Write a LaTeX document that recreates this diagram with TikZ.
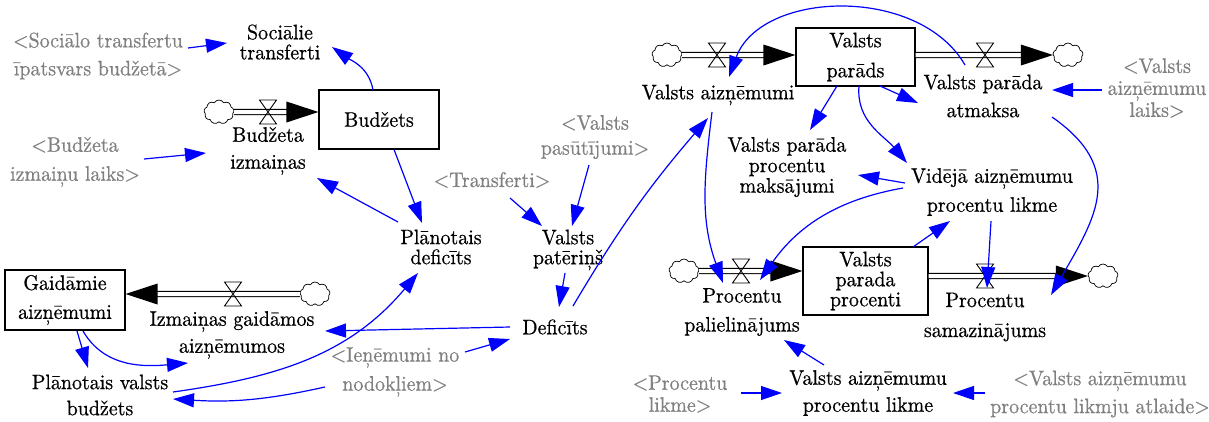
\documentclass[tikz,border=0pt]{standalone}
\usetikzlibrary{arrows.meta,shapes.symbols,calc}
\DeclareFontFamily{TU}{lmtw}{}
\DeclareFontShape{TU}{lmtw}{m}{n}{<-> "[lmroman10-regular]:+tlig;embolden=0.6;extend=0.95;"}{}
\definecolor{lblgray}{RGB}{128,128,128}
\tikzset{
  lsp/.style={font=\fontfamily{lmtw}\fontsize{21pt}{#1pt}\selectfont},
  shadowvar/.style={text=lblgray},
  stock/.style={draw, fill=white, line width=1.1pt},
  cl/.style={cloud, draw, fill=white, cloud puffs=9, cloud puff arc=120, aspect=1.25,
     minimum width=30pt, minimum height=24pt, line width=0.7pt},
  pipe/.style={draw, double, double distance=4pt, line width=1.1pt},
  link/.style={draw=blue, line width=1.2pt, -{Triangle[length=21pt,width=14pt]}},
  valvepic/.pic={\draw[line width=0.9pt] (-8.5,12) -- (8.5,12) -- (-8.5,-12) -- (8.5,-12) -- cycle;}
}
\begin{document}
\begin{tikzpicture}[x=1pt,y=1pt,
  every node/.style={inner sep=0pt, align=center, lsp=20}]
\useasboundingbox (0,0) rectangle (1209,-421);

% ---------- nodes ----------
\node[lsp=28,shadowvar] (sotr) at (98,-56) {<Sociālo transfertu\\īpatsvars budžetā>};
\node[lsp=20] (soc) at (280,-42) {Sociālie\\transferti};
\node[stock, minimum width=120pt, minimum height=59pt] (budz) at (379,-119.5) {Budžets};
\node[lsp=27] (bizm) at (268,-151) {Budžeta\\izmaiņas};
\node[lsp=29,shadowvar] (bizml) at (75,-162) {<Budžeta\\izmaiņu laiks>};
\node[lsp=20] (plandef) at (441,-247) {Plānotais\\deficīts};
\node[stock, lsp=29, minimum width=120pt, minimum height=60pt] (gaid) at (65,-300) {Gaidāmie\\aizņēmumi};
\node[lsp=27] (izmg) at (232,-335) {Izmaiņas gaidāmos\\aizņēmumos};
\node[lsp=26] (pvb) at (100,-395) {Plānotais valsts\\budžets};
\node[lsp=29,shadowvar] (iene) at (395,-372) {<Ieņēmumi no\\nodokļiem>};
\node (def) at (555,-327) {Deficīts};
\node[lsp=20] (vpat) at (568,-250) {Valsts\\patēriņš};
\node[shadowvar] (transf) at (492,-180) {<Transferti>};
\node[lsp=25,shadowvar] (vpas) at (595,-137) {<Valsts\\pasūtījumi>};
\node (vaiz) at (718,-95) {Valsts aizņēmumi};
\node[stock, lsp=30, minimum width=119pt, minimum height=58pt] (vpar) at (855.5,-57) {Valsts\\parāds};
\node[lsp=28] (atm) at (983,-96) {Valsts parāda\\atmaksa};
\node[lsp=22,shadowvar] (vaizl) at (1157,-88) {<Valsts\\aizņēmumu\\laiks>};
\node[lsp=20.5] (vppm) at (787,-167) {Valsts parāda\\procentu\\maksājumi};
\node[lsp=29] (vid) at (992,-192) {Vidējā aizņēmumu\\procentu likme};
\node[stock, lsp=20, minimum width=125pt, minimum height=68pt] (vpp) at (865.5,-281) {Valsts\\parada\\procenti};
\node[lsp=29] (ppal) at (742,-312) {Procentu\\palielinājums};
\node[lsp=30] (psam) at (985,-317) {Procentu\\samazinājums};
\node[lsp=27] (vapl) at (868,-393) {Valsts aizņēmumu\\procentu likme};
\node[lsp=22,shadowvar] (procl) at (680,-394) {<Procentu\\likme>};
\node[lsp=28,shadowvar] (vaatl) at (1100,-394) {<Valsts aizņēmumu\\procentu likmju atlaide>};

% ---------- flows ----------
% Budzets inflow
\node[cl] (bcloud) at (219,-112) {};
\draw[pipe] (bcloud.east) -- ($(bcloud -| budz.west)+(-30,0)$);
\fill ($(bcloud -| budz.west)$) -- ++(-32,10.5) -- ++(0,-21) -- cycle;
\pic at (268,-112) {valvepic};
% Gaidamie inflow (from right)
\node[cl] (gcloud) at (315,-294) {};
\draw[pipe] (gcloud.west) -- ($(gcloud -| gaid.east)+(30,0)$);
\fill ($(gcloud -| gaid.east)$) -- ++(32,10.5) -- ++(0,-21) -- cycle;
\pic at (233,-294) {valvepic};
% Valsts parads inflow
\node[cl] (vcloudA) at (667,-55) {};
\draw[pipe] (vcloudA.east) -- ($(vcloudA -| vpar.west)+(-30,0)$);
\fill ($(vcloudA -| vpar.west)$) -- ++(-32,10.5) -- ++(0,-21) -- cycle;
\pic at (717,-55) {valvepic};
% Valsts parads outflow
\node[cl] (vcloudB) at (1068,-55) {};
\draw[pipe] ($(vcloudB -| vpar.east)$) -- ($(vcloudB.west)+(-30,0)$);
\fill (vcloudB.west) -- ++(-32,10.5) -- ++(0,-21) -- cycle;
\pic at (985,-55) {valvepic};
% Procenti inflow
\node[cl] (pcloudA) at (684,-271) {};
\draw[pipe] (pcloudA.east) -- ($(pcloudA -| vpp.west)+(-30,0)$);
\fill ($(pcloudA -| vpp.west)$) -- ++(-32,10.5) -- ++(0,-21) -- cycle;
\pic at (741,-271) {valvepic};
% Procenti outflow
\node[cl] (pcloudB) at (1103,-276) {};
\draw[pipe] ($(pcloudB -| vpp.east)$) -- ($(pcloudB.west)+(-30,0)$);
\fill (pcloudB.west) -- ++(-32,10.5) -- ++(0,-21) -- cycle;
\pic at (985,-276) {valvepic};

% ---------- links ----------
\draw[link] ($(sotr)+(90,8)$) -- ($(soc)+(-53,-1)$);
\draw[link] ($(budz)+(-6,29.5)$) to[out=100,in=-35] ($(soc)+(52,-5)$);
\draw[link] ($(bizml)+(69,3)$) -- ($(bizm)+(-62,-2)$);
\draw[link] ($(plandef)+(-43,25)$) -- ($(bizm)+(49,-27)$);
\draw[link] ($(budz)+(15,-30)$) -- ($(plandef)+(-19,24)$);
\draw[link] ($(gaid)+(12,-31)$) -- ($(pvb)+(-12,27)$);
\draw[link] ($(gaid)+(18,-31)$) to[out=-60,in=185] ($(izmg)+(-44,-28)$);
\draw[link] ($(pvb)+(73,3)$) to[out=8,in=230] ($(plandef)+(-23,-26)$);
\draw[link] ($(def)+(-45,0)$) -- ($(izmg)+(93,4)$);
\draw[link] ($(iene)+(-70,-15)$) to[bend left=8] ($(pvb)+(73,-4)$);
\draw[link] ($(iene)+(70,20)$) -- ($(def)+(-45,-12)$);
\draw[link] ($(vpat)+(-3,-23)$) -- ($(def)+(4,20)$);
\draw[link] ($(transf)+(18,-18)$) -- ($(vpat)+(-26,24)$);
\draw[link] ($(vpas)+(-6,-28)$) -- ($(vpat)+(4,24)$);
\draw[link] ($(def)+(18,21)$) to[bend left=5] ($(vaiz)+(-10,-23)$);
\draw[link] ($(atm)+(-18,31)$) to[out=120,in=70] ($(vaiz)+(11,18)$);
\draw[link] ($(vpar)+(24.5,-29)$) -- ($(atm)+(-65,-7)$);
\draw[link] ($(vpar)+(-18.5,-29)$) -- ($(vppm)+(23,37)$);
\draw[link] ($(vpar)+(3.5,-29)$) to[out=-95,in=130] ($(vid)+(-85,29)$);
\draw[link] ($(vid)+(-87,9)$) -- ($(vppm)+(71,-8)$);
\draw[link] ($(vid)+(-89,4)$) to[out=190,in=55] ($(ppal)+(18,32)$);
\draw[link] ($(vaiz)+(-6,-17)$) to[out=-97,in=110] ($(ppal)+(-19,29)$);
\draw[link] ($(vpp)+(47.5,34)$) -- ($(vid)+(-42,-29)$);
\draw[link] ($(vid)+(-1,-29)$) -- ($(psam)+(2,29)$);
\draw[link] ($(atm)+(69,-21)$) to[out=-35,in=60,looseness=1.3] ($(psam)+(66,22)$);
\draw[link] ($(vaizl)+(-55,-2)$) -- ($(atm)+(69,6)$);
\draw[link] ($(vapl)+(-44,28)$) -- ($(ppal)+(42,-28)$);
\draw[link] ($(procl)+(61,1)$) -- ($(vapl)+(-86,0)$);
\draw[link] ($(vaatl)+(-115,1)$) -- ($(vapl)+(85,0)$);
\end{tikzpicture}
\end{document}
